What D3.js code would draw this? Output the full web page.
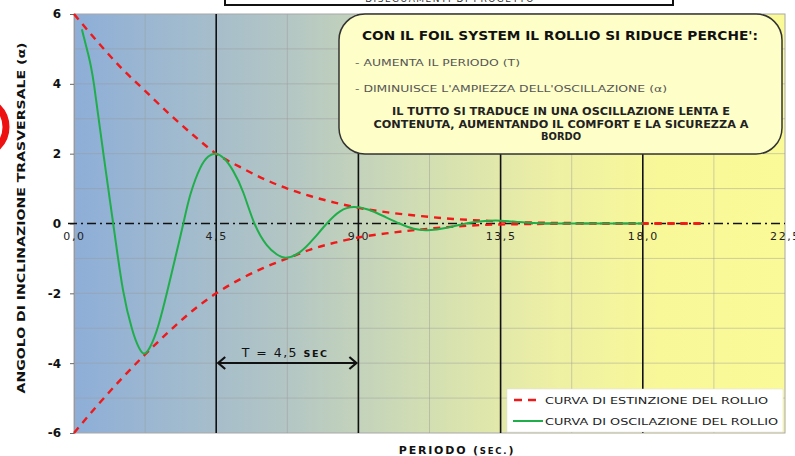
<!DOCTYPE html>
<html><head><meta charset="utf-8">
<script src="https://cdn.jsdelivr.net/npm/d3@7"></script>
<style>
html,body{margin:0;padding:0;background:#fff;}
svg{display:block;font-family:"DejaVu Sans",sans-serif;}
</style></head>
<body>
<svg id="chart" width="795" height="456"></svg>
<script>
// ---- DATA ----
const envTime  = [0, 0.75, 1.5, 2.25, 3, 3.75, 4.5, 5.25, 6, 6.75, 7.5, 8.25, 9, 10, 11, 12, 13, 14, 15, 16, 17, 18, 19, 20];
const envUpper = [6.0, 5.2, 4.45, 3.8, 3.15, 2.55, 2.0, 1.62, 1.28, 1.0, 0.78, 0.6, 0.45, 0.31, 0.21, 0.13, 0.08, 0.04, 0.02, 0.01, 0, 0, 0, 0];
const envLower = [-6.0, -5.2, -4.45, -3.75, -3.1, -2.5, -2.0, -1.6, -1.27, -1.0, -0.74, -0.55, -0.4, -0.27, -0.17, -0.09, -0.04, -0.02, -0.01, 0, 0, 0, 0, 0];

const rollTime = [0.25, 0.45, 0.63, 0.93, 1.24, 1.55, 1.83, 2.0, 2.19, 2.4, 2.66, 2.95, 3.2, 3.46, 3.69, 4.0, 4.25, 4.48, 4.75, 5.04, 5.36, 5.71, 6.1, 6.41, 6.71, 7.15, 7.57, 8.0, 8.42, 8.86, 9.3, 9.75, 10.3, 10.75, 11.2, 11.8, 12.4, 13.0, 13.5, 14.1, 14.7, 15.5, 16.5, 18.0];
const roll     = [5.56, 4.85, 4.0, 2.0, 0, -1.9, -3.0, -3.45, -3.72, -3.55, -2.95, -1.95, -1.0, 0, 0.85, 1.6, 1.92, 2.0, 1.86, 1.5, 0.88, 0, -0.62, -0.88, -0.98, -0.82, -0.45, 0, 0.35, 0.47, 0.4, 0.23, 0, -0.15, -0.19, -0.12, 0, 0.07, 0.08, 0.04, 0.01, 0, 0, 0];

const xTicks = [0, 4.5, 9, 13.5, 18, 22.5];
const xTickLabels = ["0,0", "4,5", "9,0", "13,5", "18,0", "22,5"];
const yTicks = [-6, -4, -2, 0, 2, 4, 6];
const xMinor = [2.25, 6.75, 11.25, 15.75, 20.25];
const yGrid = [-5, -4, -3, -2, -1, 1, 2, 3, 4, 5];
const periodLines = [4.5, 9, 13.5, 18];

const boxTitle = "CON IL FOIL SYSTEM IL ROLLIO SI RIDUCE PERCHE':";
const boxBullets = ["- AUMENTA IL PERIODO (T)", "- DIMINUISCE L'AMPIEZZA DELL'OSCILLAZIONE (α)"];
const boxConclusion = ["IL TUTTO SI TRADUCE IN UNA OSCILLAZIONE LENTA E", "CONTENUTA, AUMENTANDO IL COMFORT E LA SICUREZZA A", "BORDO"];
const legendLabels = ["CURVA DI ESTINZIONE DEL ROLLIO", "CURVA DI OSCILAZIONE DEL ROLLIO"];

// ---- CHART ----
const svg = d3.select("#chart");
const L = 74, R = 785, T = 14, B = 433;
const x = d3.scaleLinear().domain([0, 22.5]).range([L, R]);
const y = d3.scaleLinear().domain([-6, 6]).range([B, T]);

const defs = svg.append("defs");
const grad = defs.append("linearGradient").attr("id", "bg").attr("x1", "0").attr("x2", "1").attr("y1", "0").attr("y2", "0");
[[0, "#8eaed8"], [0.3, "#b3c6c4"], [0.5, "#d3dfb2"], [0.68, "#eef0a3"], [0.82, "#f8f899"], [1, "#fafa98"]]
  .forEach(([o, c]) => grad.append("stop").attr("offset", o).attr("stop-color", c));

// red blob at left edge
svg.append("circle").attr("cx", -22).attr("cy", 127).attr("r", 28)
  .attr("fill", "none").attr("stroke", "#ee1111").attr("stroke-width", 7);

// top title box (cut off)
svg.append("rect").attr("x", 225).attr("y", -30).attr("width", 448).attr("height", 35)
  .attr("fill", "#fff").attr("stroke", "#111").attr("stroke-width", 2);
svg.append("text").attr("x", 450).attr("y", 2).attr("text-anchor", "middle")
  .attr("font-size", 9).attr("letter-spacing", 1.5).attr("fill", "#333").text("DISEGUAMENTI DI PROGETTO");

// plot background
svg.append("rect").attr("x", L).attr("y", T).attr("width", R - L).attr("height", B - T)
  .attr("fill", "url(#bg)").attr("stroke", "#a8a8a8").attr("stroke-width", 1);

// gridlines
svg.append("g").selectAll("line").data(yGrid).join("line")
  .attr("x1", L).attr("x2", R).attr("y1", d => y(d)).attr("y2", d => y(d))
  .attr("stroke", "#9a9a9a").attr("stroke-opacity", 0.45).attr("stroke-width", 1);
svg.append("g").selectAll("line").data(xMinor).join("line")
  .attr("y1", T).attr("y2", B).attr("x1", d => x(d)).attr("x2", d => x(d))
  .attr("stroke", "#9a9a9a").attr("stroke-opacity", 0.45).attr("stroke-width", 1);

// y axis
const yAxis = svg.append("g").attr("transform", `translate(${L},0)`)
  .call(d3.axisLeft(y).tickValues(yTicks).tickSize(4).tickPadding(9).tickFormat(d => String(d)));
yAxis.select(".domain").attr("stroke", "#999");
yAxis.selectAll(".tick line").attr("stroke", "#666");
yAxis.selectAll(".tick text").attr("font-size", 12).attr("font-weight", "bold").attr("fill", "#111")
  .attr("font-family", "DejaVu Sans, sans-serif");

// x tick labels along zero line
const xAxis = svg.append("g").attr("transform", `translate(0,${y(0)})`)
  .call(d3.axisBottom(x).tickValues(xTicks).tickSize(0).tickPadding(9).tickFormat((d, i) => xTickLabels[i]));
xAxis.select(".domain").remove();
xAxis.selectAll(".tick text").attr("font-size", 11).attr("letter-spacing", 1.6).attr("fill", "#222")
  .attr("font-family", "DejaVu Sans, sans-serif");

// period black lines
svg.append("g").selectAll("line").data(periodLines).join("line")
  .attr("y1", T).attr("y2", B).attr("x1", d => x(d)).attr("x2", d => x(d))
  .attr("stroke", "#111").attr("stroke-width", 1.6);

// zero dash-dot line
svg.append("line").attr("x1", L - 6).attr("x2", R).attr("y1", y(0)).attr("y2", y(0))
  .attr("stroke", "#111").attr("stroke-width", 1.6).attr("stroke-dasharray", "9,4,2,4");

// envelopes
const envLine = vals => d3.line().x((d, i) => x(envTime[i])).y(d => y(d)).curve(d3.curveMonotoneX)(vals);
[envUpper, envLower].forEach(v => {
  svg.append("path").attr("d", envLine(v)).attr("fill", "none")
    .attr("stroke", "#f01818").attr("stroke-width", 2.4).attr("stroke-dasharray", "7,6");
});

// roll curve
svg.append("path")
  .attr("d", d3.line().x((d, i) => x(rollTime[i])).y(d => y(d)).curve(d3.curveNatural)(roll))
  .attr("fill", "none").attr("stroke", "#1fae4a").attr("stroke-width", 2);

// T = 4,5 sec arrow
const ay = 363;
svg.append("line").attr("x1", x(4.5) + 2).attr("x2", x(9) - 2).attr("y1", ay).attr("y2", ay)
  .attr("stroke", "#111").attr("stroke-width", 2);
svg.append("path").attr("d", `M${x(4.5) + 9},${ay - 6} L${x(4.5) + 2},${ay} L${x(4.5) + 9},${ay + 6}`)
  .attr("fill", "none").attr("stroke", "#111").attr("stroke-width", 2.2);
svg.append("path").attr("d", `M${x(9) - 9},${ay - 6} L${x(9) - 2},${ay} L${x(9) - 9},${ay + 6}`)
  .attr("fill", "none").attr("stroke", "#111").attr("stroke-width", 2.2);
const tt = svg.append("text").attr("x", 285).attr("y", 357).attr("text-anchor", "middle")
  .attr("font-size", 12.5).attr("letter-spacing", 1.5).attr("fill", "#111");
tt.append("tspan").text("T = 4,5 ");
tt.append("tspan").attr("font-size", 9.5).attr("font-weight", "bold").text("SEC");

// annotation box
svg.append("rect").attr("x", 339).attr("y", 14).attr("width", 443).attr("height", 140)
  .attr("rx", 26).attr("ry", 26).attr("fill", "#fefec8").attr("stroke", "#333").attr("stroke-width", 1.5);
svg.append("text").attr("x", 560).attr("y", 40).attr("text-anchor", "middle")
  .attr("font-size", 11.5).attr("font-weight", "bold").attr("fill", "#111")
  .attr("textLength", 396).attr("lengthAdjust", "spacingAndGlyphs").text(boxTitle);
const bulletLens = [165, 312];
boxBullets.forEach((t, i) => {
  svg.append("text").attr("x", 355).attr("y", 66 + i * 26).attr("font-size", 9.5).attr("fill", "#555")
    .attr("textLength", bulletLens[i]).attr("lengthAdjust", "spacingAndGlyphs").text(t);
});
const concLens = [338, 375, 40];
boxConclusion.forEach((t, i) => {
  svg.append("text").attr("x", 561).attr("y", 115 + i * 12.5).attr("text-anchor", "middle")
    .attr("font-size", 10).attr("font-weight", "bold").attr("fill", "#222")
    .attr("textLength", concLens[i]).attr("lengthAdjust", "spacingAndGlyphs").text(t);
});

// legend
svg.append("rect").attr("x", 507).attr("y", 389).attr("width", 276).attr("height", 43)
  .attr("fill", "#fff").attr("stroke", "#ddd").attr("stroke-width", 0.5);
svg.append("line").attr("x1", 514).attr("x2", 540).attr("y1", 400).attr("y2", 400)
  .attr("stroke", "#f01818").attr("stroke-width", 2.4).attr("stroke-dasharray", "8,6");
svg.append("line").attr("x1", 513).attr("x2", 543).attr("y1", 421).attr("y2", 421)
  .attr("stroke", "#1fae4a").attr("stroke-width", 2);
const legLens = [223, 233];
legendLabels.forEach((t, i) => {
  svg.append("text").attr("x", 545).attr("y", 404 + i * 21).attr("font-size", 9.5).attr("fill", "#222")
    .attr("textLength", legLens[i]).attr("lengthAdjust", "spacingAndGlyphs").text(t);
});

// axis titles
svg.append("text").attr("transform", "translate(25,218) rotate(-90)").attr("text-anchor", "middle")
  .attr("font-size", 11).attr("font-weight", "bold").attr("fill", "#111")
  .attr("textLength", 351).attr("lengthAdjust", "spacingAndGlyphs")
  .text("ANGOLO DI INCLINAZIONE TRASVERSALE (α)");
const xt = svg.append("text").attr("x", 457).attr("y", 454).attr("text-anchor", "middle")
  .attr("font-size", 11).attr("font-weight", "bold").attr("fill", "#111").attr("letter-spacing", 1.8);
xt.append("tspan").text("PERIODO (");
xt.append("tspan").attr("font-size", 8.5).text("SEC.");
xt.append("tspan").text(")");
</script>
</body></html>
